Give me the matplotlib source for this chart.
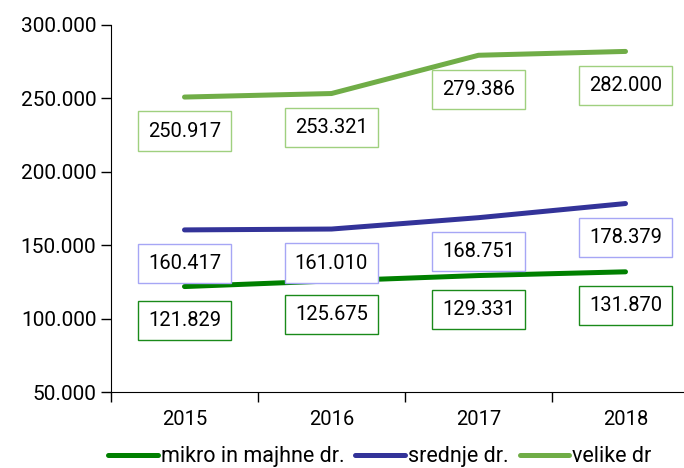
import matplotlib.pyplot as plt
from matplotlib.ticker import FuncFormatter

plt.rcParams['font.family'] = ['Roboto', 'DejaVu Sans']

leta = ['2015', '2016', '2017', '2018']
mikro = [121829, 125675, 129331, 131870]
srednje = [160417, 161010, 168751, 178379]
velike = [250917, 253321, 279386, 282000]

serije = [
    ('mikro in majhne dr.', mikro, '#008000', '#1a8a1a'),
    ('srednje dr.', srednje, '#333399', '#a6a6f5'),
    ('velike dr', velike, '#70ad47', '#9fd07f'),
]

fig = plt.figure(figsize=(6.84, 4.68), dpi=100)
ax = fig.add_axes([111/684, 76/468, 588/684, 367/468])

x = list(range(len(leta)))
for ime, vals, barva, rob in serije:
    ax.plot(x, vals, color=barva, linewidth=3.6, solid_capstyle='round', label=ime)
    for xi, v in zip(x, vals):
        ax.annotate(f"{v:,.0f}".replace(',', '.'), (xi, v), xytext=(0, -34),
                    textcoords='offset pixels', ha='center', va='center', fontsize=14.5,
                    bbox=dict(boxstyle='square,pad=0.5', fc='white', ec=rob, lw=1))

ax.set_xlim(-0.5, 3.5)
ax.set_ylim(50000, 300000)
ax.set_yticks(range(50000, 300001, 50000))
ax.yaxis.set_major_formatter(FuncFormatter(lambda v, p: f"{v:,.0f}".replace(',', '.')))
ax.set_xticks(x)
ax.set_xticklabels(leta)
ax.set_xticks([-0.5, 0.5, 1.5, 2.5], minor=True)
ax.tick_params(axis='x', which='major', length=0, pad=13, labelsize=14.5)
ax.tick_params(axis='x', which='minor', length=7, width=1)
ax.tick_params(axis='y', length=7, width=1, labelsize=15)
for s in ['top', 'right']:
    ax.spines[s].set_visible(False)

fig.legend(loc='lower left', bbox_to_anchor=(0.13, -0.04), ncol=3, frameon=False,
           fontsize=15.5, handlelength=2.3, handletextpad=0.15, columnspacing=0.5)

fig.savefig('out.png', dpi=100)
